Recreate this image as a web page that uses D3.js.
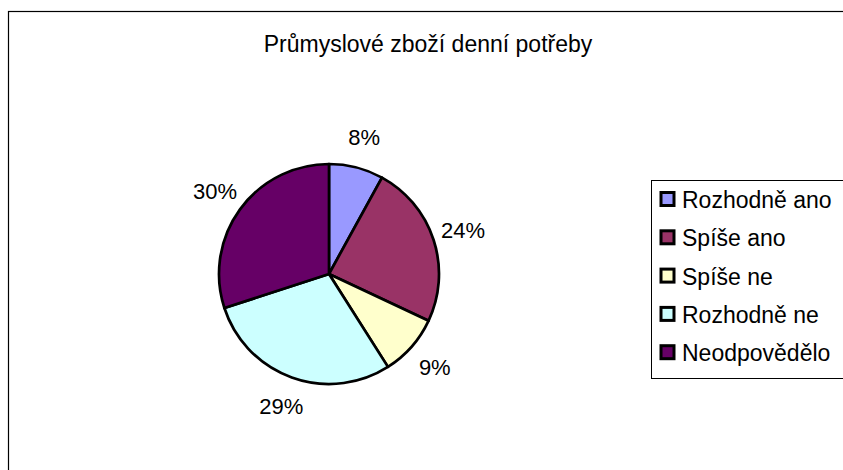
<!DOCTYPE html>
<html>
<head>
<meta charset="utf-8">
<script src="https://cdn.jsdelivr.net/npm/d3@7"></script>
<style>
  html, body { margin: 0; padding: 0; background: #fff; }
  svg { display: block; font-family: Arial, "Liberation Sans", sans-serif; }
</style>
</head>
<body>
<svg id="chart" width="843" height="470"></svg>
<script>
// Survey answers for "Průmyslové zboží denní potřeby"
const title = "Průmyslové zboží denní potřeby";
const categories = ["Rozhodně ano", "Spíše ano", "Spíše ne", "Rozhodně ne", "Neodpovědělo"];
const shares = [8, 24, 9, 29, 30];
const colors = ["#9999FF", "#993366", "#FFFFCC", "#CCFFFF", "#660066"];

const svg = d3.select("#chart");
const W = 843, H = 470;

// outer frame of the chart area
svg.append("rect")
  .attr("x", 8.5).attr("y", 11.5)
  .attr("width", W).attr("height", H)
  .attr("fill", "#fff")
  .attr("stroke", "#000").attr("stroke-width", 1.2);

svg.append("text")
  .attr("x", 428).attr("y", 52)
  .attr("text-anchor", "middle")
  .attr("font-size", 23)
  .attr("fill", "#000")
  .text(title);

const data = categories.map((c, i) => ({ name: c, value: shares[i], color: colors[i] }));

const cx = 329, cy = 274, R = 110;
const pie = d3.pie().value(d => d.value).sort(null);
const arcs = pie(data);
const arc = d3.arc().innerRadius(0).outerRadius(R);
const labelArc = d3.arc().innerRadius(R + 31).outerRadius(R + 31);

const g = svg.append("g").attr("transform", `translate(${cx},${cy})`);

g.selectAll("path.slice")
  .data(arcs)
  .join("path")
  .attr("class", "slice")
  .attr("d", arc)
  .attr("fill", d => d.data.color)
  .attr("stroke", "#000")
  .attr("stroke-width", 2.7)
  .attr("stroke-linejoin", "round");

const total = d3.sum(shares);
g.selectAll("text.pct")
  .data(arcs)
  .join("text")
  .attr("class", "pct")
  .attr("transform", d => `translate(${labelArc.centroid(d)})`)
  .attr("text-anchor", "middle")
  .attr("dominant-baseline", "central")
  .attr("font-size", 22)
  .attr("fill", "#000")
  .text(d => Math.round(d.data.value / total * 100) + "%");

// legend
const lx = 651, ly = 180, lw = 220, lh = 198;
const legend = svg.append("g");
legend.append("rect")
  .attr("x", lx + 0.5).attr("y", ly + 0.5)
  .attr("width", lw).attr("height", lh)
  .attr("fill", "#fff")
  .attr("stroke", "#000").attr("stroke-width", 1);

const item = legend.selectAll("g.item")
  .data(data)
  .join("g")
  .attr("class", "item")
  .attr("transform", (d, i) => `translate(${lx + 10},${ly + 19 + i * 38.3})`);

item.append("rect")
  .attr("x", 0).attr("y", -6.5)
  .attr("width", 13).attr("height", 13)
  .attr("fill", d => d.color)
  .attr("stroke", "#000").attr("stroke-width", 3);

item.append("text")
  .attr("x", 21)
  .attr("y", 1)
  .attr("dominant-baseline", "central")
  .attr("font-size", 23)
  .attr("fill", "#000")
  .text(d => d.name);
</script>
</body>
</html>
